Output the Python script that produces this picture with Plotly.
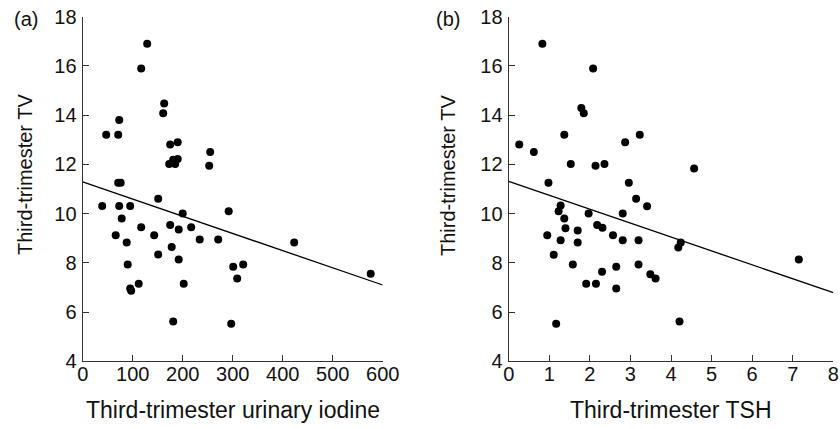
import plotly.graph_objects as go

# Panel (a): urinary iodine vs TV
iodine = [129, 117, 163, 161, 73, 47, 71, 175, 190, 255, 253, 173, 185, 181, 190,
          71, 76, 151, 39, 73, 95, 78, 66, 88, 90, 95, 97, 112, 117, 143, 151,
          175, 192, 178, 192, 202, 181, 200, 217, 234, 271, 292, 297, 301, 321,
          309, 423, 576]
tv_a = [16.9, 15.9, 14.47, 14.08, 13.8, 13.2, 13.2, 12.81, 12.9, 12.5, 11.94, 12.02,
        12.02, 12.19, 12.22, 11.25, 11.25, 10.6, 10.31, 10.31, 10.31, 9.8, 9.12, 8.83,
        7.93, 6.96, 6.87, 7.15, 9.45, 9.12, 8.34, 9.54, 9.35, 8.64, 8.14, 7.15, 5.62,
        10.0, 9.45, 8.95, 8.95, 10.1, 5.53, 7.84, 7.93, 7.36, 8.83, 7.56]
fit_a_x = [0, 600]
fit_a_y = [11.29, 7.1]

# Panel (b): TSH vs TV
tsh = [0.83, 2.08, 1.79, 1.85, 0.26, 0.62, 1.37, 3.23, 2.87, 1.53, 2.14, 2.36, 4.57,
       0.98, 2.96, 3.14, 3.41, 1.28, 1.23, 1.37, 1.40, 0.95, 1.28, 1.11, 1.17, 1.70,
       1.70, 1.58, 1.97, 2.18, 2.31, 1.91, 2.15, 2.30, 2.57, 2.81, 2.81, 2.65, 2.65,
       3.20, 3.20, 3.49, 3.62, 4.18, 4.24, 4.21, 7.15]
tv_b = [16.9, 15.9, 14.29, 14.08, 12.81, 12.5, 13.2, 13.2, 12.9, 12.02, 11.94, 12.02,
        11.83, 11.25, 11.25, 10.6, 10.3, 10.33, 10.1, 9.8, 9.41, 9.12, 8.92, 8.33, 5.53,
        9.31, 8.83, 7.93, 10.0, 9.54, 9.43, 7.15, 7.15, 7.64, 9.12, 10.0, 8.92, 7.84,
        6.96, 8.92, 7.93, 7.54, 7.36, 8.62, 8.83, 5.62, 8.14]
fit_b_x = [0, 8]
fit_b_y = [11.31, 6.79]

y_ticks = [4, 6, 8, 10, 12, 14, 16, 18]
xa_ticks = [0, 100, 200, 300, 400, 500, 600]
xb_ticks = [0, 1, 2, 3, 4, 5, 6, 7, 8]

FONT = "Liberation Sans, Arial, sans-serif"
W, H = 840, 429

def px(x):
    return min(1.0, max(0.0, x / W))

def py(y):
    return min(1.0, max(0.0, 1 - y / H))

fig = go.Figure()
mk = dict(color="black", size=8)
fig.add_trace(go.Scatter(x=iodine, y=tv_a, mode="markers", marker=mk,
                         xaxis="x", yaxis="y", cliponaxis=False, showlegend=False))
fig.add_trace(go.Scatter(x=fit_a_x, y=fit_a_y, mode="lines",
                         line=dict(color="black", width=1.3),
                         xaxis="x", yaxis="y", cliponaxis=False, showlegend=False))
fig.add_trace(go.Scatter(x=tsh, y=tv_b, mode="markers", marker=mk,
                         xaxis="x2", yaxis="y2", cliponaxis=False, showlegend=False))
fig.add_trace(go.Scatter(x=fit_b_x, y=fit_b_y, mode="lines",
                         line=dict(color="black", width=1.3),
                         xaxis="x2", yaxis="y2", cliponaxis=False, showlegend=False))

ydom = [py(361.3), py(16.7)]
axis_common = dict(showgrid=False, zeroline=False, showline=True, linecolor="#333",
                   linewidth=1.3, ticks="inside", ticklen=6, tickwidth=1.3,
                   tickcolor="#333", automargin=False, ticklabeloverflow="allow",
                   tickfont=dict(family=FONT, size=20, color="#111"))

fig.update_layout(
    template="none",
    width=W, height=H, margin=dict(l=0, r=0, t=0, b=0, pad=0),
    paper_bgcolor="white", plot_bgcolor="white",
    xaxis=dict(domain=[px(82.7), px(382.7)], range=[0, 600], tickvals=xa_ticks,
               anchor="y", ticklabelstandoff=-5, **axis_common),
    yaxis=dict(domain=ydom, range=[4, 18], tickvals=y_ticks, anchor="x",
               ticklabelstandoff=1, **axis_common),
    xaxis2=dict(domain=[px(508.7), px(833.3)], range=[0, 8], tickvals=xb_ticks,
                anchor="y2", ticklabelstandoff=-5, **axis_common),
    yaxis2=dict(domain=ydom, range=[4, 18], tickvals=y_ticks, anchor="x2",
                ticklabelstandoff=1, **axis_common),
)

def ann(text, x, y, size, angle=0):
    fig.add_annotation(text=text, x=px(x), y=py(y), xref="paper", yref="paper",
                       showarrow=False, textangle=angle, xanchor="center", yanchor="middle",
                       font=dict(family=FONT, size=size, color="#111"))

ann("Third-trimester urinary iodine", 233, 410, 23)
ann("Third-trimester TSH", 671, 410, 23)
ann("Third-trimester TV", 25, 175, 20, -90)
ann("Third-trimester TV", 448, 176, 20, -90)
ann("(a)", 25.5, 19, 20)
ann("(b)", 448, 19, 20)

fig.write_html(
    "out.html",
    config={"displayModeBar": False},
    post_script="document.body.style.margin='0px';document.body.style.overflow='hidden';",
)
